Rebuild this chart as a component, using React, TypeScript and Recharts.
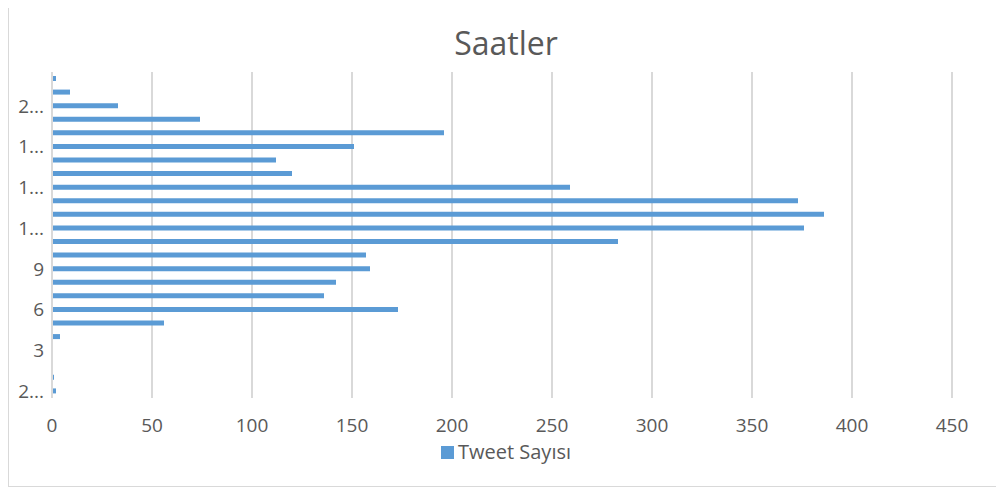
import React from 'react';
import { BarChart, Bar, XAxis, YAxis, CartesianGrid } from 'recharts';

// hours, bottom to top as Excel draws them
const hours = ['24', '1', '2', '3', '4', '5', '6', '7', '8', '9', '10', '11', '12', '13', '14', '15', '16', '17', '18', '19', '20', '21', '22', '23'];
const tweetCounts = [2, 1, 0, 0, 4, 56, 173, 136, 142, 159, 157, 283, 376, 386, 373, 259, 120, 112, 151, 196, 74, 33, 9, 2];
const xTicks = [0, 50, 100, 150, 200, 250, 300, 350, 400, 450];

const chartData = hours.map((h, i) => ({ hour: h, count: tweetCounts[i] }));

const FONT = '"Open Sans", sans-serif';
const TEXT = '#595959';
const BLUE = '#5b9bd5';
const GRID = '#d9d9d9';

// long labels get cut like Excel does
const shortLabel = (v: string) => (v.length > 1 ? v[0] + '...' : v);

export default function App() {
    return (
        <div
            style={{
                position: 'relative',
                width: 996,
                height: 487,
                marginTop: -8,
                boxSizing: 'border-box',
                borderLeft: `1px solid ${GRID}`,
                borderRight: `1px solid ${GRID}`,
                borderBottom: `1px solid ${GRID}`,
                background: '#fff',
            }}
        >
            <div
                style={{
                    position: 'absolute',
                    top: 21,
                    width: '100%',
                    textAlign: 'center',
                    fontFamily: FONT,
                    fontSize: 32,
                    color: TEXT,
                }}
            >
                Saatler
            </div>
            <BarChart
                width={994}
                height={486}
                data={chartData}
                layout="vertical"
                margin={{ top: 72, right: 51, left: 0, bottom: 58 }}
                barCategoryGap={4}
            >
                <CartesianGrid horizontal={false} stroke={GRID} strokeWidth={2} />
                <XAxis
                    type="number"
                    domain={[0, 450]}
                    ticks={xTicks}
                    axisLine={false}
                    tickLine={false}
                    tickSize={0}
                    tickMargin={21}
                    height={30}
                    tick={{ fill: TEXT, fontSize: 19, fontFamily: FONT }}
                />
                <YAxis
                    type="category"
                    dataKey="hour"
                    reversed
                    width={43}
                    interval={2}
                    axisLine={{ stroke: GRID, strokeWidth: 2 }}
                    tickLine={false}
                    tickSize={0}
                    tickMargin={8}
                    tickFormatter={shortLabel}
                    tick={{ fill: TEXT, fontSize: 19, fontFamily: FONT }}
                />
                <Bar dataKey="count" name="Tweet Sayısı" fill={BLUE} barSize={5} isAnimationActive={false} />
            </BarChart>
            <div
                style={{
                    position: 'absolute',
                    top: 442,
                    width: '100%',
                    display: 'flex',
                    justifyContent: 'center',
                    alignItems: 'center',
                    fontFamily: FONT,
                    fontSize: 20,
                    lineHeight: '20px',
                    color: TEXT,
                }}
            >
                <span style={{ width: 13, height: 13, background: BLUE, display: 'inline-block', marginRight: 4 }} />
                <span>Tweet Sayısı</span>
            </div>
        </div>
    );
}
